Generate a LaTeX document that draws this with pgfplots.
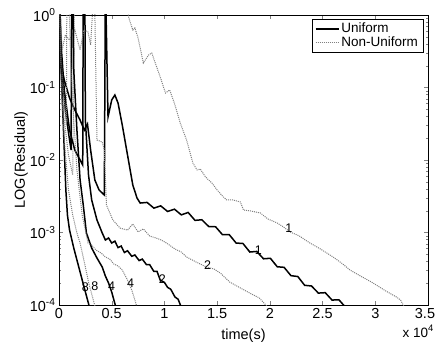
\documentclass[border=0pt]{standalone}
\usepackage{fontspec}
\setmainfont{Liberation Sans}
\usepackage{pgfplots}
\pgfplotsset{compat=1.18}
\begin{document}
\begin{tikzpicture}
\begin{axis}[
  at={(59pt,36pt)}, anchor=south west,
  scale only axis, width=369pt, height=290pt,
  xmin=0, xmax=3.5, ymin=1e-4, ymax=1,
  ymode=log,
  xtick={0,0.5,1,1.5,2,2.5,3,3.5},
  xticklabels={0,0.5,1,1.5,2,2.5,3,{3.5\kern6pt}},
  ytick={1e-4,1e-3,1e-2,1e-1,1},
  yticklabels={10\textsuperscript{-4},10\textsuperscript{-3},10\textsuperscript{-2},10\textsuperscript{-1},10\textsuperscript{0}},
  tick align=inside,
  major tick length=4pt, minor tick length=2pt,
  ticklabel style={font=\fontsize{14.5}{16}\selectfont},
  /pgf/number format/assume math mode=true,
  xlabel={time(s)}, ylabel={LOG(Residual)},
  label style={font=\fontsize{14.5}{16}\selectfont},
  xlabel style={yshift=-3pt},
  ylabel style={yshift=-5pt},
  axis line style={black},
  legend style={at={(1,1)}, anchor=north east, xshift=-5pt, yshift=-4pt,
    font=\fontsize{13.5}{14}\selectfont, draw=black, inner xsep=3pt, inner ysep=2pt, row sep=-1.5pt},
  legend cell align=left,
  legend image code/.code={\draw[#1] (0pt,0pt) -- (23pt,0pt);},
]
% Uniform 1
\addplot[black, line width=1.5pt] coordinates {
(0,3) (0.02,0.204) (0.05,0.127) (0.1,0.0716) (0.15,0.049) (0.2,0.0356) (0.24,0.0259) (0.27,0.0314) (0.3,0.0137) (0.34,0.0053) (0.38,0.00386) (0.43,0.00329) (0.44,3) (0.465,0.0392) (0.5,0.0673) (0.53,0.0788) (0.56,0.0611) (0.6,0.0304) (0.65,0.0117) (0.7,0.00452) (0.74,0.00299)
(0.77,0.00255) (0.835,0.00260) (0.90,0.00217) (0.965,0.00233) (1.03,0.00195) (1.095,0.00210) (1.16,0.00175) (1.225,0.00189) (1.29,0.00147) (1.355,0.00150) (1.42,0.00121) (1.485,0.00120) (1.55,0.000935) (1.615,0.000933) (1.68,0.000716) (1.745,0.000705) (1.81,0.000538) (1.875,0.000548) (1.94,0.000434) (2.005,0.000441) (2.07,0.000337) (2.135,0.000331) (2.2,0.000254) (2.265,0.000247) (2.33,0.000187) (2.395,0.000183) (2.46,0.000146) (2.525,0.000148) (2.59,0.000117) (2.655,0.000118) (2.72,0.0000924)
};
\addlegendentry{Uniform}
% Non-uniform 1
\addplot[gray, densely dotted, line width=1pt] coordinates {
(0,3) (0.02,0.174) (0.05,0.0356) (0.09,0.0117) (0.13,0.00621) (0.15,3) (0.64,3) (0.66,0.938) (0.7,0.621) (0.72,0.662) (0.75,0.482) (0.8,0.218) (0.85,0.281) (0.88,0.299) (0.92,0.204) (0.96,0.140) (1.01,0.084) (1.05,0.0924) (1.1,0.0574) (1.15,0.0324) (1.21,0.0189) (1.27,0.00909) (1.31,0.00728) (1.34,0.00751) (1.39,0.00583) (1.45,0.00482) (1.5,0.00386) (1.55,0.00319) (1.59,0.00281) (1.65,0.00281) (1.72,0.00264) (1.75,0.00204) (1.82,0.00198) (1.91,0.00186) (1.98,0.00154) (2.07,0.00135) (2.13,0.00119) (2.19,0.00102) (2.28,0.000895) (2.38,0.000716) (2.48,0.000592) (2.6,0.000459) (2.68,0.000379) (2.76,0.000304) (2.86,0.000251) (2.98,0.000201) (3.1,0.000156) (3.2,0.000129) (3.24,0.000117) (3.27,0.0000969)
};
\addlegendentry{Non-Uniform}
% Uniform 2
\addplot[black, line width=1.5pt, forget plot] coordinates {
(0,3) (0.02,0.386) (0.05,0.0924) (0.1,0.0259) (0.15,0.0137) (0.2,0.01) (0.225,0.00853) (0.23,3) (0.245,3) (0.25,0.0356) (0.28,0.00621) (0.31,0.00281) (0.36,0.00149) (0.41,0.000985) (0.44,0.000788) (0.47,0.00084) (0.5,0.000716) (0.53,0.00076) (0.56,0.00062) (0.59,0.00065) (0.62,0.00053) (0.65,0.00056) (0.69,0.00047) (0.72,0.00049) (0.76,0.00041) (0.79,0.00043) (0.83,0.00036) (0.86,0.00036) (0.9,0.00029) (0.93,0.00029) (0.96,0.000221) (1.0,0.000205) (1.03,0.000175) (1.06,0.000165) (1.1,0.000129) (1.13,0.000120) (1.16,0.0000930)
};
% Non-uniform 2
\addplot[gray, densely dotted, line width=1pt, forget plot] coordinates {
(0,3) (0.03,0.329) (0.06,0.53) (0.1,0.452) (0.15,0.621) (0.2,0.329) (0.235,0.621) (0.275,0.583) (0.3,0.386) (0.335,3) (0.36,0.0189) (0.41,0.0177) (0.43,0.0137) (0.45,0.0024) (0.51,0.00149) (0.58,0.00115) (0.65,0.00108) (0.7,0.00131) (0.75,0.00102) (0.8,0.00112) (0.86,0.000895) (0.92,0.00084) (0.97,0.000788) (1.02,0.000716) (1.1,0.000592) (1.16,0.000538) (1.21,0.000459) (1.3,0.000392) (1.4,0.000334) (1.47,0.000314) (1.53,0.000276) (1.62,0.000207) (1.72,0.000172) (1.81,0.000146) (1.9,0.000125) (1.97,0.0000969)
};
% Uniform 4
\addplot[black, line width=1.5pt, forget plot] coordinates {
(0,3) (0.02,0.24) (0.06,0.049) (0.1,0.0189) (0.115,0.0137) (0.12,3) (0.13,3) (0.14,0.174) (0.17,0.0259) (0.2,0.0053) (0.23,0.0024) (0.26,0.000985) (0.31,0.000611) (0.36,0.000445) (0.41,0.000334) (0.44,0.000251) (0.47,0.000201) (0.5,0.000151) (0.54,0.0000924)
};
% Non-uniform 4
\addplot[gray, densely dotted, line width=1pt, forget plot] coordinates {
(0,3) (0.02,0.24) (0.05,0.0673) (0.07,0.0304) (0.075,3) (0.09,3) (0.11,0.24) (0.14,0.0356) (0.17,0.00728) (0.22,0.00174) (0.275,0.000716) (0.31,0.000673) (0.35,0.000574) (0.4,0.000521) (0.44,0.000459) (0.48,0.000431) (0.52,0.000368) (0.56,0.000345) (0.6,0.000304) (0.65,0.000221) (0.69,0.000161) (0.72,0.000117) (0.74,0.0000924)
};
% Uniform 8
\addplot[black, line width=1.5pt, forget plot] coordinates {
(0,3) (0.01,0.264) (0.02,0.174) (0.035,0.049) (0.05,0.0137) (0.065,0.00386) (0.08,0.00174) (0.1,0.00108) (0.14,0.000611) (0.19,0.000324) (0.24,0.000172) (0.29,0.0000924)
};
% Non-uniform 8
\addplot[gray, densely dotted, line width=1pt, forget plot] coordinates {
(0,3) (0.02,0.127) (0.05,0.0189) (0.09,0.00386) (0.13,0.00174) (0.17,0.000985) (0.2,0.000716) (0.24,0.000392) (0.28,0.000207) (0.32,0.000125) (0.345,0.0000924)
};
\node[font=\fontsize{12.5}{12}\selectfont] at (axis cs:2.18,0.00115) {1};
\node[font=\fontsize{12.5}{12}\selectfont] at (axis cs:1.89,0.00057) {1};
\node[font=\fontsize{12.5}{12}\selectfont] at (axis cs:1.41,0.00036) {2};
\node[font=\fontsize{12.5}{12}\selectfont] at (axis cs:0.98,0.00023) {2};
\node[font=\fontsize{12.5}{12}\selectfont] at (axis cs:0.68,0.00020) {4};
\node[font=\fontsize{12.5}{12}\selectfont] at (axis cs:0.50,0.00018) {4};
\node[font=\fontsize{12.5}{12}\selectfont] at (axis cs:0.34,0.00018) {8};
\node[font=\fontsize{12.5}{12}\selectfont] at (axis cs:0.25,0.000175) {8};
\end{axis}
\node[anchor=base east, font=\fontsize{13.5}{14}\selectfont, inner sep=0pt] at (434pt,4pt) {x 10\textsuperscript{4}};
\pgfresetboundingbox
\path[use as bounding box] (0,0) rectangle (436pt,341pt);
\end{tikzpicture}
\end{document}
